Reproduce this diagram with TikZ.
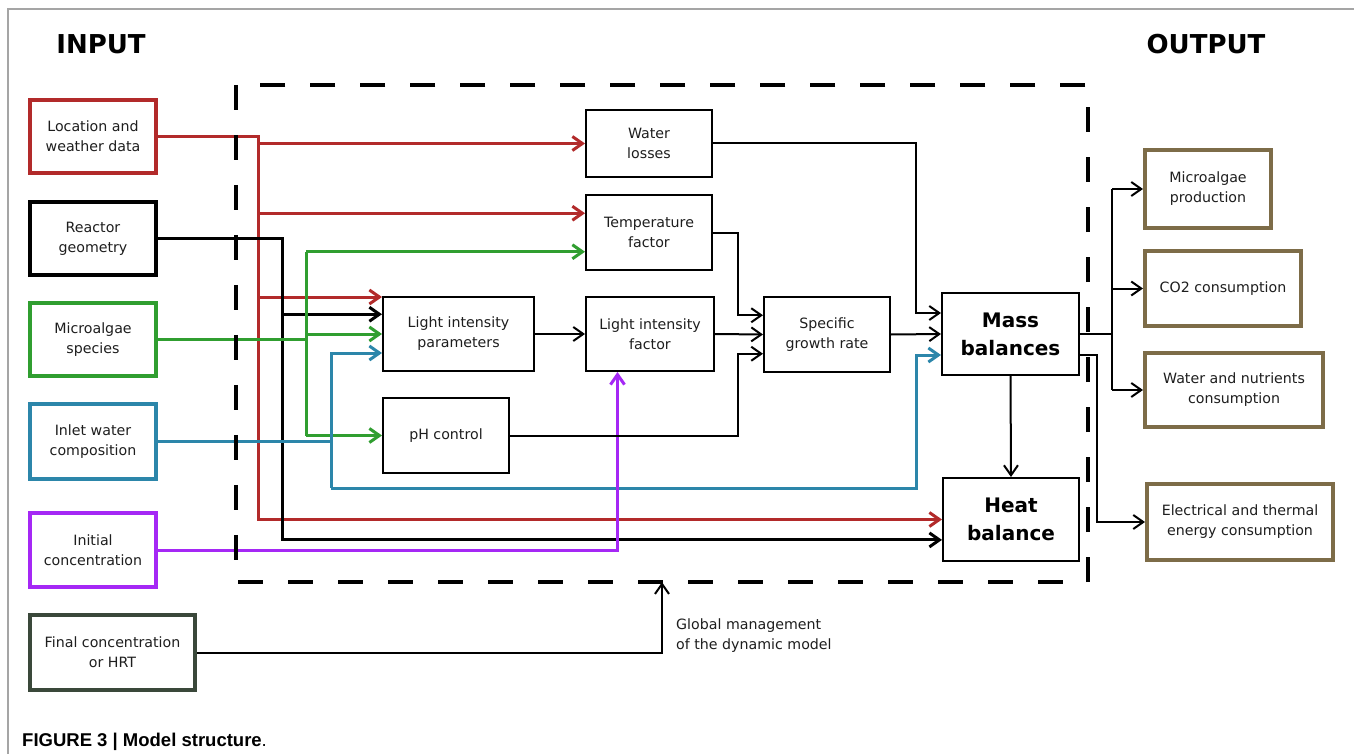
\documentclass[tikz,border=0pt]{standalone}
\usepackage{fontspec}
\setmainfont{DejaVu Sans}
\newfontfamily\capfont{Liberation Sans}
\usetikzlibrary{arrows.meta,calc}
\definecolor{cred}{RGB}{178,42,42}
\definecolor{cgreen}{RGB}{48,158,48}
\definecolor{cblue}{RGB}{44,134,170}
\definecolor{cpurple}{RGB}{165,40,245}
\definecolor{cfinal}{RGB}{58,72,58}
\definecolor{coutput}{RGB}{125,108,72}
\definecolor{ctext}{RGB}{30,30,30}
\definecolor{cframe}{RGB}{165,165,165}
\begin{document}
\begin{tikzpicture}[x=1pt,y=-1pt,
  txt/.style={text=ctext, font=\fontsize{14.2}{20}\selectfont},
  inbox/.style={txt, draw, line width=4pt, minimum width=126pt, minimum height=73pt, inner sep=0pt, align=center},
  midbox/.style={txt, draw=black, line width=2pt, inner sep=0pt, align=center},
  outbox/.style={txt, draw=coutput, line width=4pt, inner sep=0pt, align=center},
  bigbox/.style={draw=black, line width=2pt, inner sep=0pt, align=center, text=black, font=\fontsize{20}{28}\selectfont\bfseries},
  title/.style={text=black, font=\fontsize{26}{30}\selectfont\bfseries},
  thin conn/.style={line width=2pt, black},
  fat conn/.style={line width=3pt},
  arr/.style={-{Straight Barb[length=10pt,width=14pt]}},
  dashframe/.style={line width=3.5pt, black, dash pattern=on 25pt off 25pt},
]
\fill[white] (0,0) rectangle (1354,754);
\useasboundingbox (0,0) rectangle (1354,754);
\draw[cframe, line width=1.5pt] (8,754) -- (8,9) -- (1354,9);

% titles
\node[title] (tin) at (101,44) {INPUT};
\node[title] (tout) at (1206,44) {OUTPUT};

% model frame (named, drawn later)
\node[minimum width=852pt, minimum height=497pt, inner sep=0pt] (model) at (662,333.5) {};

% input boxes
\node[inbox, draw=cred] (loc) at (93,136.5) {Location and\\weather data};
\node[inbox, draw=black] (reac) at (93,238.5) {Reactor\\geometry};
\node[inbox, draw=cgreen] (micro) at (93,339.5) {Microalgae\\species};
\node[inbox, draw=cblue, minimum height=75pt] (inlet) at (93,441.5) {Inlet water\\composition};
\node[inbox, draw=cpurple, minimum height=74pt] (init) at (93,550) {Initial\\concentration};
\node[inbox, draw=cfinal, minimum width=165pt, minimum height=75pt] (final) at (112.5,652.5) {Final concentration\\or HRT};

% middle boxes
\node[midbox, minimum width=126pt, minimum height=67pt] (wl) at (649,143.5) {Water\\losses};
\node[midbox, minimum width=126pt, minimum height=75pt] (tf) at (649,232.5) {Temperature\\factor};
\node[midbox, minimum width=151pt, minimum height=74pt] (lip) at (458.5,334) {Light intensity\\parameters};
\node[midbox, minimum width=128pt, minimum height=74pt] (lf) at (650,334) {Light intensity\\factor};
\node[midbox, minimum width=126pt, minimum height=75pt] (ph) at (446,435.5) {pH control};
\node[midbox, minimum width=126pt, minimum height=75pt] (sgr) at (827,334.5) {Specific\\growth rate};
\node[bigbox, minimum width=137pt, minimum height=82pt] (mb) at (1010.5,334) {Mass\\balances};
\node[bigbox, minimum width=136pt, minimum height=83pt] (hb) at (1011,519.5) {Heat\\balance};

% output boxes
\node[outbox, minimum width=126pt, minimum height=78pt] (o1) at (1208,189) {Microalgae\\production};
\node[outbox, minimum width=156pt, minimum height=75pt] (o2) at (1223,288.5) {CO2 consumption};
\node[outbox, minimum width=178pt, minimum height=74pt] (o3) at (1234,390) {Water and nutrients\\consumption};
\node[outbox, minimum width=186pt, minimum height=76pt] (o4) at (1240,522) {Electrical and thermal\\energy consumption};

% helper coordinates
\coordinate (rx) at (258,0);
\coordinate (bx) at (282,0);
\coordinate (gx) at (306,0);
\coordinate (ux) at (331,0);
\coordinate (uy) at (0,488);
\coordinate (mx) at (916,0);
\coordinate (sx) at (738,0);
\coordinate (ox) at (1112,0);
\coordinate (ex) at (1097,0);
\coordinate (tfa) at ($(tf.north west)!0.25!(tf.south west)$);
\coordinate (tfb) at ($(tf.north west)!0.75!(tf.south west)$);
\coordinate (lipa) at ([yshift=-1pt]lip.north west);
\coordinate (lipb) at ($(lip.north west)!0.24!(lip.south west)$);
\coordinate (lipd) at ($(lip.north west)!0.75!(lip.south west)$);
\coordinate (hbb) at ($(hb.north west)!0.74!(hb.south west)$);
\coordinate (mba) at ($(mb.north west)!0.25!(mb.south west)$);
\coordinate (mbd) at ($(mb.north west)!0.75!(mb.south west)$);
\coordinate (mbe) at ($(mb.north east)!0.75!(mb.south east)$);
\coordinate (sga) at ($(sgr.north west)!0.25!(sgr.south west)$);
\coordinate (sgc) at ($(sgr.north west)!0.75!(sgr.south west)$);
\coordinate (lfe) at ($(lf.south west)!0.25!(lf.south east)$);

% red: location and weather data
\draw[fat conn, cred, arr] (loc.east) -| (rx |- hb.west) -- (hb.west);
\draw[fat conn, cred, arr] (rx |- wl.west) -- (wl.west);
\draw[fat conn, cred, arr] (rx |- tfa) -- (tfa);
\draw[fat conn, cred, arr] (rx |- lipa) -- (lipa);

% black: reactor geometry
\draw[fat conn, black, arr] (reac.east) -| (bx |- hbb) -- (hbb);
\draw[fat conn, black, arr] (bx |- lipb) -- (lipb);

% green: microalgae species
\draw[fat conn, cgreen] (micro.east) -- (gx |- micro.east);
\draw[fat conn, cgreen] (gx |- tfb) -- (gx |- ph.west);
\draw[fat conn, cgreen, arr] (gx |- tfb) -- (tfb);
\draw[fat conn, cgreen, arr] (gx |- lip.west) -- (lip.west);
\draw[fat conn, cgreen, arr] (gx |- ph.west) -- (ph.west);

% blue: inlet water composition
\draw[fat conn, cblue] (inlet.east) -- (ux |- inlet.east);
\draw[fat conn, cblue, arr] (ux |- uy) -- (ux |- lipd) -- (lipd);
\draw[fat conn, cblue, arr] (ux |- uy) -- (mx |- uy) -- (mx |- mbd) -- (mbd);

% purple: initial concentration
\draw[fat conn, cpurple, arr] (init.east) -| (lfe);

% black internal
\draw[thin conn, arr] (wl.east) -| (mx |- mba) -- (mba);
\draw[thin conn, arr] (tf.east) -| (sx |- sga) -- (sga);
\draw[thin conn, arr] (ph.east) -| (sx |- sgc) -- (sgc);
\draw[thin conn, arr] (lip.east) -- (lf.west);
\draw[thin conn, arr] (lf.east) -- (sgr.west);
\draw[thin conn, arr] (sgr.east) -- (mb.west);
\draw[thin conn, arr] (mb.south) -- (hb.north);

% outputs
\draw[thin conn] (mb.east) -- (ox |- mb.east);
\draw[thin conn] (ox |- o1.west) -- (ox |- o3.west);
\draw[thin conn, arr] (ox |- o1.west) -- (o1.west);
\draw[thin conn, arr] (ox |- o2.west) -- (o2.west);
\draw[thin conn, arr] (ox |- o3.west) -- (o3.west);
\draw[thin conn, arr] (mbe) -| (ex |- o4.west) -- (o4.west);

% global management
\draw[thin conn, arr] (final.east) -| (model.south);
\node[txt, anchor=west, align=left, inner sep=0pt] (gm) at (676,636) {Global management\\of the dynamic model};

% dashed model frame
\draw[dashframe] (model.north west) rectangle (model.south east);

% caption
\node[anchor=west, inner sep=0pt, text=black, font=\capfont\fontsize{18.5}{22}\selectfont] (cap) at (22,742) {\textbf{FIGURE 3 | Model structure}.};
\end{tikzpicture}
\end{document}
